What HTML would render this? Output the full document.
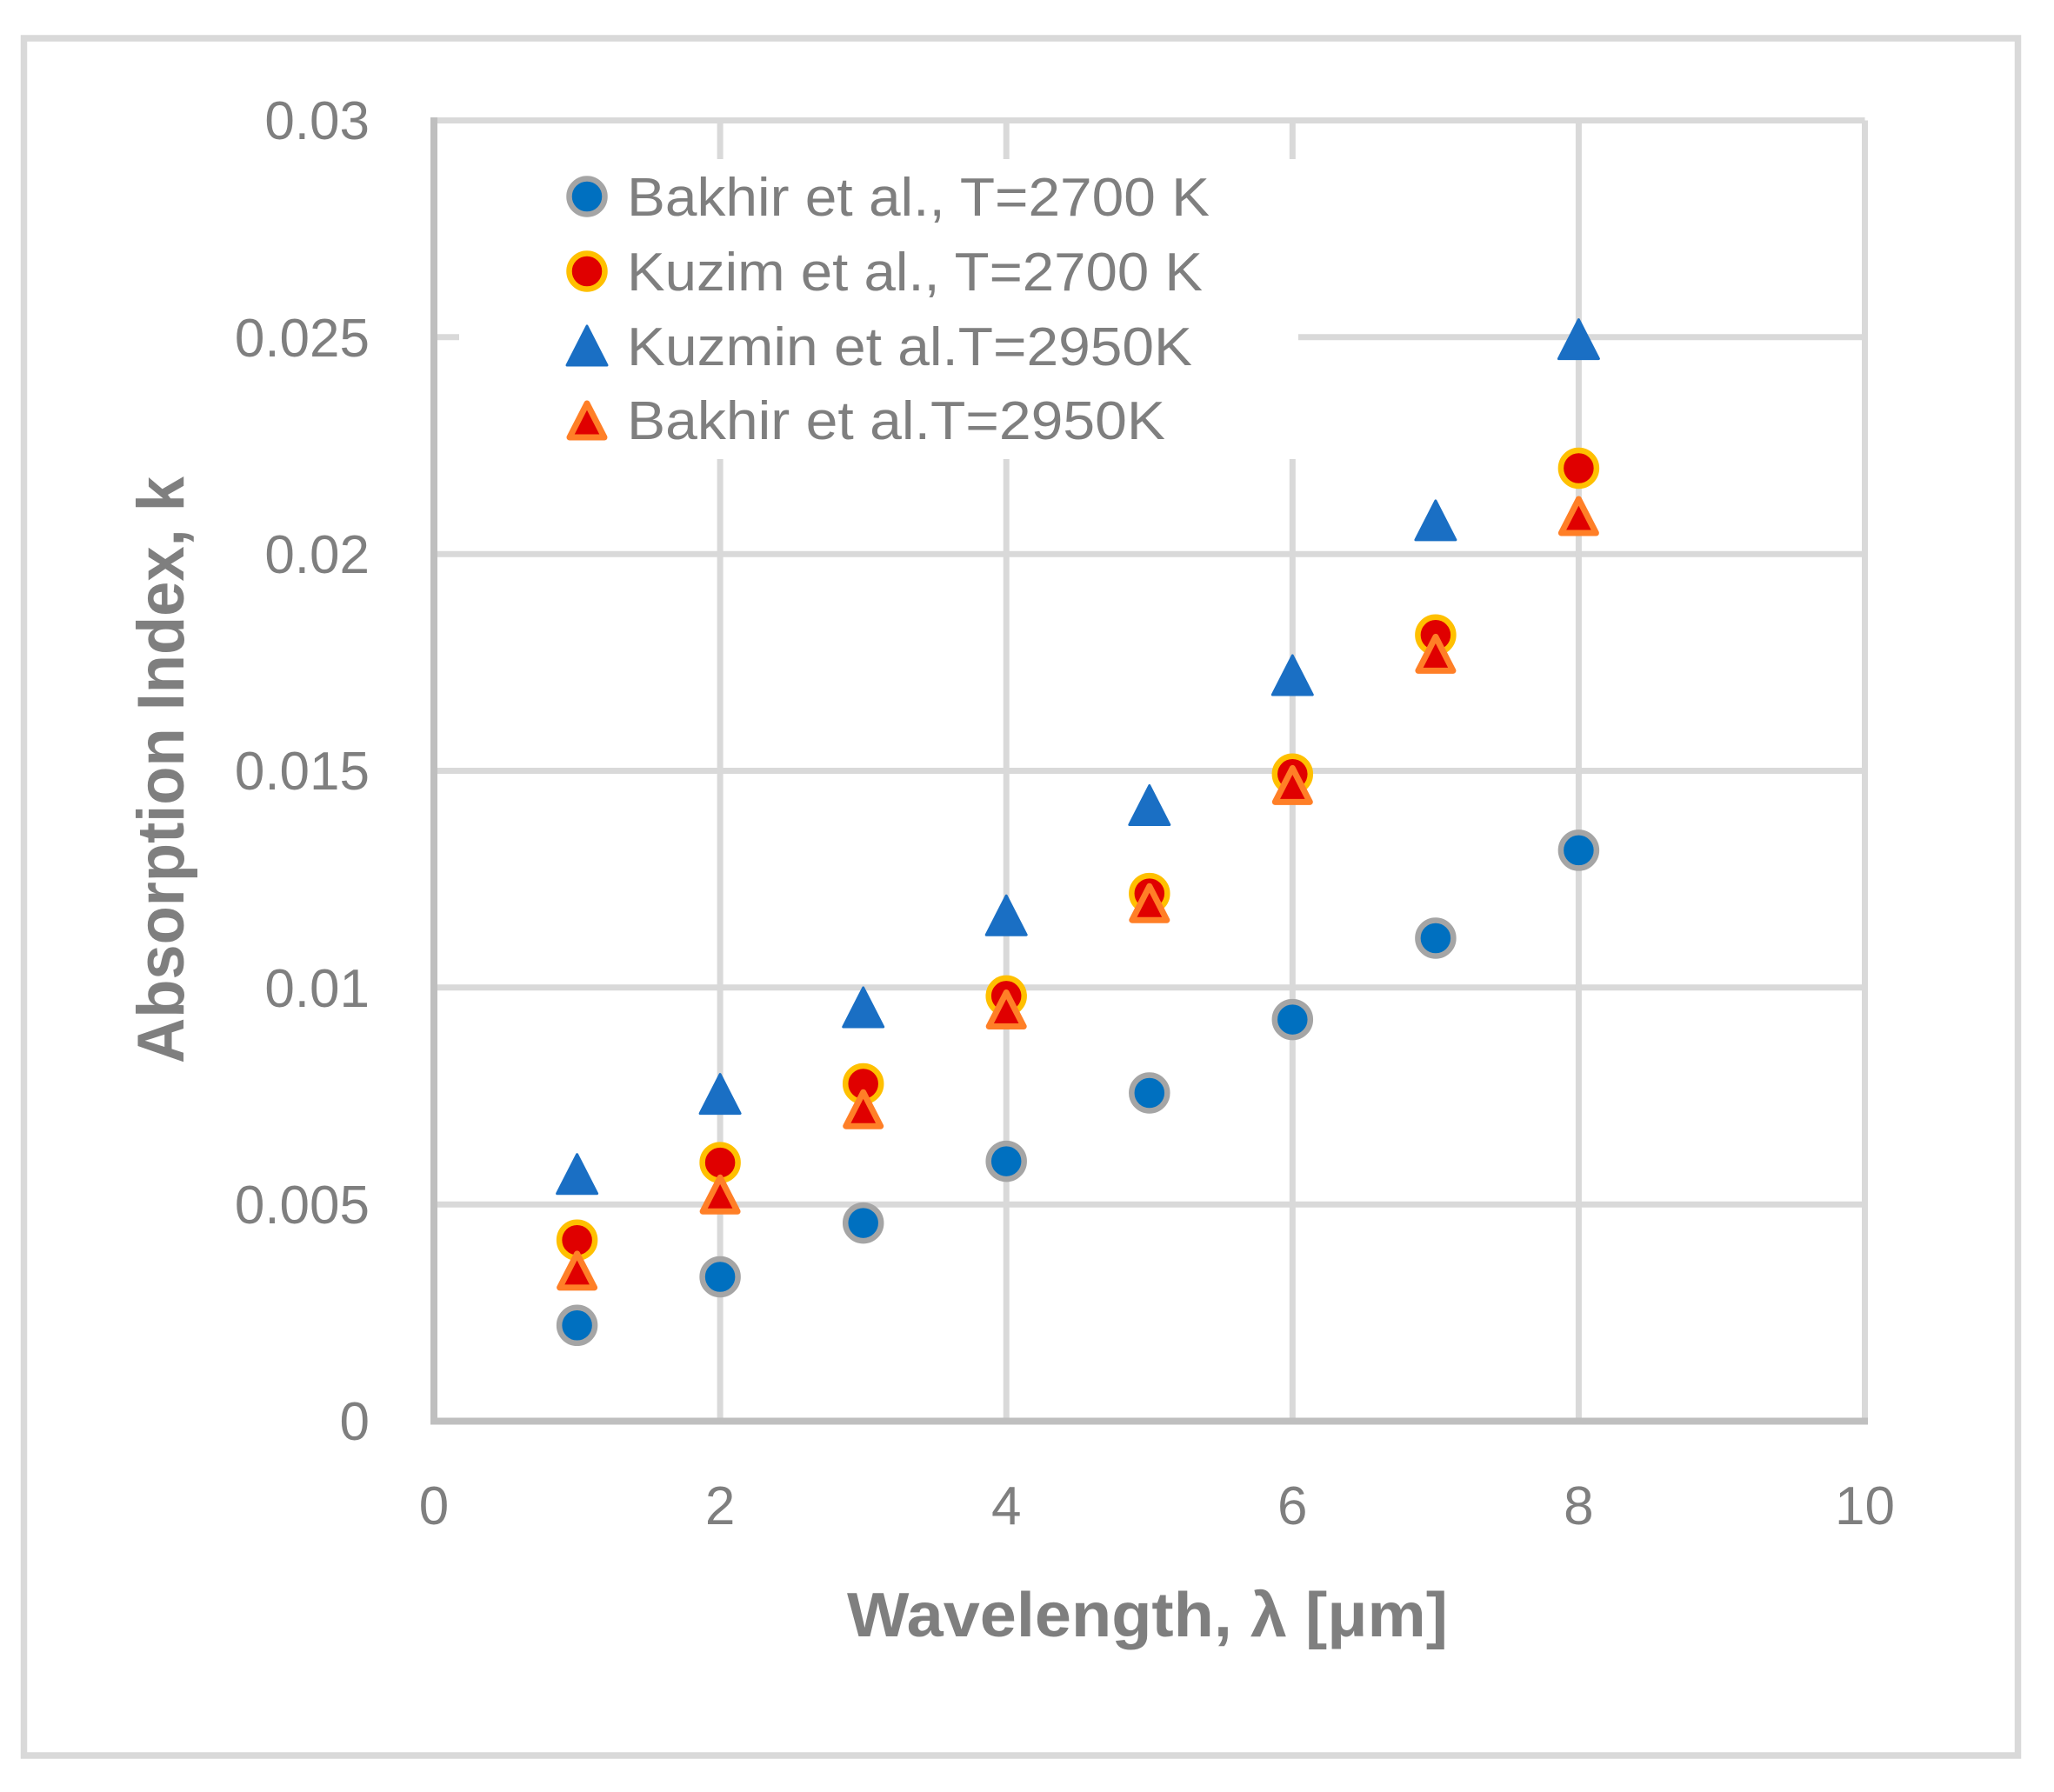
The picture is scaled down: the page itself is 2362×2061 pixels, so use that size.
<!DOCTYPE html>
<html><head><meta charset="utf-8"><style>html,body{margin:0;padding:0;background:#fff}svg{display:block}</style></head>
<body>
<svg width="2362" height="2061" viewBox="0 0 2362 2061" xmlns="http://www.w3.org/2000/svg" font-family="'Liberation Sans', sans-serif">
<rect x="0" y="0" width="2362" height="2061" fill="#fff"/>
<rect x="27.5" y="44" width="2293" height="1975" fill="none" stroke="#d9d9d9" stroke-width="7.5"/>
<g stroke="#d9d9d9" stroke-width="7">
<line x1="499" y1="138.5" x2="2144.5" y2="138.5"/>
<line x1="499" y1="387.8" x2="2144.5" y2="387.8"/>
<line x1="499" y1="637.2" x2="2144.5" y2="637.2"/>
<line x1="499" y1="886.5" x2="2144.5" y2="886.5"/>
<line x1="499" y1="1135.8" x2="2144.5" y2="1135.8"/>
<line x1="499" y1="1385.2" x2="2144.5" y2="1385.2"/>
<line x1="828.1" y1="138.5" x2="828.1" y2="1634.5"/>
<line x1="1157.2" y1="138.5" x2="1157.2" y2="1634.5"/>
<line x1="1486.3" y1="138.5" x2="1486.3" y2="1634.5"/>
<line x1="1815.4" y1="138.5" x2="1815.4" y2="1634.5"/>
<line x1="2144.5" y1="138.5" x2="2144.5" y2="1634.5"/>
</g>
<rect x="528" y="183" width="965" height="345" fill="#fff"/>
<g stroke="#bfbfbf" stroke-width="8">
<line x1="499" y1="135" x2="499" y2="1638"/>
<line x1="495" y1="1634.5" x2="2148" y2="1634.5"/>
</g>
<g fill="#7f7f7f" font-size="62" text-anchor="end">
<text x="425" y="160">0.03</text>
<text x="425" y="410">0.025</text>
<text x="425" y="659">0.02</text>
<text x="425" y="908">0.015</text>
<text x="425" y="1158">0.01</text>
<text x="425" y="1407">0.005</text>
<text x="425" y="1656">0</text>
</g>
<g fill="#7f7f7f" font-size="62" text-anchor="middle">
<text x="499" y="1753">0</text>
<text x="828.1" y="1753">2</text>
<text x="1157.2" y="1753">4</text>
<text x="1486.3" y="1753">6</text>
<text x="1815.4" y="1753">8</text>
<text x="2144.5" y="1753">10</text>
</g>
<text x="974" y="1882" fill="#7f7f7f" font-size="72" font-weight="bold" textLength="691" lengthAdjust="spacingAndGlyphs">Wavelength, λ [μm]</text>
<text transform="translate(211,1223) rotate(-90)" x="0" y="0" fill="#7f7f7f" font-size="76" font-weight="bold" textLength="675" lengthAdjust="spacingAndGlyphs">Absorption Index, k</text>
<defs>
<g id="bc"><circle r="20.5" fill="#0070c0" stroke="#a5a5a5" stroke-width="6.5"/></g>
<g id="rc"><circle r="20.5" fill="#e00000" stroke="#ffc000" stroke-width="6.5"/></g>
<g id="bt"><path d="M0,-23 L23,22 L-23,22 Z" fill="#1a6fc4" stroke="#1a6fc4" stroke-width="3" stroke-linejoin="round"/></g>
<g id="ot"><path d="M0,-19 L20,20 L-20,20 Z" fill="#e00000" stroke="#ff7f27" stroke-width="7" stroke-linejoin="round"/></g>
</defs>
<g>
<use href="#bc" x="663.6" y="1524.3"/><use href="#bc" x="828.1" y="1468.5"/><use href="#bc" x="992.7" y="1406.6"/><use href="#bc" x="1157.2" y="1335.6"/><use href="#bc" x="1321.8" y="1257"/><use href="#bc" x="1486.3" y="1172.6"/><use href="#bc" x="1650.9" y="1079"/><use href="#bc" x="1815.4" y="977.9"/>
<use href="#bt" x="663.6" y="1350.7"/><use href="#bt" x="828.1" y="1258.6"/><use href="#bt" x="992.7" y="1159"/><use href="#bt" x="1157.2" y="1053.2"/><use href="#bt" x="1321.8" y="926.5"/><use href="#bt" x="1486.3" y="777"/><use href="#bt" x="1650.9" y="598.9"/><use href="#bt" x="1815.4" y="390.6"/>
<use href="#rc" x="663.6" y="1426.2"/><use href="#rc" x="828.1" y="1337.1"/><use href="#rc" x="992.7" y="1246.5"/><use href="#rc" x="1157.2" y="1145.4"/><use href="#rc" x="1321.8" y="1027.6"/><use href="#rc" x="1486.3" y="890.3"/><use href="#rc" x="1650.9" y="730.3"/><use href="#rc" x="1815.4" y="538.5"/>
<use href="#ot" x="663.6" y="1460.9"/><use href="#ot" x="828.1" y="1373.3"/><use href="#ot" x="992.7" y="1275.2"/><use href="#ot" x="1157.2" y="1160.5"/><use href="#ot" x="1321.8" y="1038.2"/><use href="#ot" x="1486.3" y="902.4"/><use href="#ot" x="1650.9" y="751.4"/><use href="#ot" x="1815.4" y="593"/>
</g>
<use href="#bc" x="675" y="226"/>
<use href="#rc" x="675" y="312"/>
<use href="#bt" x="675" y="398"/>
<use href="#ot" x="675" y="483"/>
<g fill="#7f7f7f" font-size="62">
<text x="721" y="248" textLength="670" lengthAdjust="spacingAndGlyphs">Bakhir et al., T=2700 K</text>
<text x="721" y="334" textLength="662" lengthAdjust="spacingAndGlyphs">Kuzim et al., T=2700 K</text>
<text x="721" y="420" textLength="650" lengthAdjust="spacingAndGlyphs">Kuzmin et al.T=2950K</text>
<text x="721" y="505" textLength="619" lengthAdjust="spacingAndGlyphs">Bakhir et al.T=2950K</text>
</g>
</svg>
</body></html>
